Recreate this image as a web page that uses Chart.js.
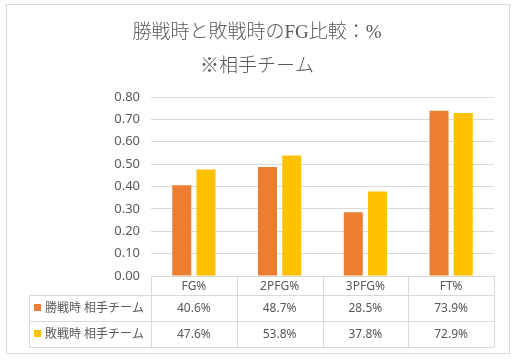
<!DOCTYPE html>
<html>
<head>
<meta charset="utf-8">
<script src="https://cdn.jsdelivr.net/npm/chart.js@4"></script>
<style>
  body { margin: 0; background: #fff; }
  #wrap { width: 518px; height: 360px; }
</style>
</head>
<body>
<div id="wrap"><canvas id="chart" width="518" height="360"></canvas></div>
<script>
const categories = ['FG%', '2PFG%', '3PFG%', 'FT%'];
const seriesNames = ['勝戦時 相手チーム', '敗戦時 相手チーム'];
const winValues = [0.406, 0.487, 0.285, 0.739];
const loseValues = [0.476, 0.538, 0.378, 0.729];
const titleLines = ['勝戦時と敗戦時のFG比較：%', '※相手チーム'];

const colors = ['#ED7D31', '#FFC000'];
const textColor = '#595959';
const lineColor = '#d9d9d9';
const sansFont = '"Noto Sans", "Noto Sans CJK JP", sans-serif';

// 外枠・タイトル・データテーブルを描く
const tablePlugin = {
    id: 'dataTable',
    beforeDraw(chart) {
        const ctx = chart.ctx;
        ctx.save();
        ctx.fillStyle = '#fff';
        ctx.fillRect(0, 0, chart.width, chart.height);
        ctx.strokeStyle = lineColor;
        ctx.lineWidth = 1;
        ctx.strokeRect(6.5, 4.5, 503, 349);
        ctx.fillStyle = textColor;
        ctx.textAlign = 'center';
        ctx.textBaseline = 'middle';
        ctx.font = '300 19px "Liberation Serif", "Noto Sans CJK JP", serif';
        ctx.fillText(titleLines[0], 257, 33);
        ctx.fillText(titleLines[1], 257, 67);
        ctx.restore();
    },
    afterDraw(chart) {
        const ctx = chart.ctx;
        const x = chart.scales.x;
        const top = chart.chartArea.bottom;
        const left = x.left, right = x.right;
        const n = categories.length;
        const colW = (right - left) / n;
        const rows = [top, top + 19, top + 45, top + 71];
        const legendLeft = 29;
        ctx.save();
        ctx.strokeStyle = lineColor;
        ctx.lineWidth = 1;
        ctx.beginPath();
        ctx.moveTo(left, Math.round(rows[0]) + 0.5);
        ctx.lineTo(right, Math.round(rows[0]) + 0.5);
        for (let r = 1; r < rows.length; r++) {
            ctx.moveTo(legendLeft, Math.round(rows[r]) + 0.5);
            ctx.lineTo(right, Math.round(rows[r]) + 0.5);
        }
        for (let i = 0; i <= n; i++) {
            const cx = Math.round(left + i * colW) + 0.5;
            ctx.moveTo(cx, rows[0]);
            ctx.lineTo(cx, rows[3] + 0.5);
        }
        ctx.moveTo(legendLeft + 0.5, rows[1]);
        ctx.lineTo(legendLeft + 0.5, rows[3] + 0.5);
        ctx.stroke();

        ctx.fillStyle = textColor;
        ctx.textAlign = 'center';
        ctx.textBaseline = 'middle';
        ctx.font = '12px ' + sansFont;
        const datasets = chart.data.datasets;
        for (let i = 0; i < n; i++) {
            const cx = left + (i + 0.5) * colW;
            ctx.fillText(categories[i], cx, (rows[0] + rows[1]) / 2 + 1);
            for (let d = 0; d < datasets.length; d++) {
                const v = datasets[d].data[i];
                ctx.fillText((v * 100).toFixed(1) + '%', cx, (rows[d + 1] + rows[d + 2]) / 2 + 1);
            }
        }
        ctx.textAlign = 'left';
        ctx.font = '12px ' + sansFont;
        for (let d = 0; d < datasets.length; d++) {
            const cy = (rows[d + 1] + rows[d + 2]) / 2;
            ctx.fillStyle = colors[d];
            ctx.fillRect(34, cy - 4, 7, 7);
            ctx.fillStyle = textColor;
            ctx.fillText(seriesNames[d], 45, cy + 1);
        }
        ctx.restore();
    }
};

const ctx = document.getElementById('chart').getContext('2d');
const chart = new Chart(ctx, {
    type: 'bar',
    data: {
        labels: categories,
        datasets: [
            { label: seriesNames[0], data: winValues, backgroundColor: colors[0] },
            { label: seriesNames[1], data: loseValues, backgroundColor: colors[1] }
        ]
    },
    options: {
        responsive: false,
        animation: false,
        devicePixelRatio: 1,
        categoryPercentage: 0.565,
        barPercentage: 0.785,
        layout: {
            padding: { left: 0, top: 97, right: 24, bottom: 84 }
        },
        plugins: {
            legend: { display: false },
            title: { display: false },
            tooltip: { enabled: false }
        },
        scales: {
            x: {
                display: false
            },
            y: {
                min: 0,
                max: 0.8,
                afterFit(scale) { scale.width = 151; },
                border: { display: false },
                grid: { color: lineColor, drawTicks: false },
                ticks: {
                    stepSize: 0.1,
                    padding: 11,
                    color: textColor,
                    font: { size: 13, family: sansFont },
                    callback: v => v.toFixed(2)
                }
            }
        }
    },
    plugins: [tablePlugin]
});
</script>
</body>
</html>
